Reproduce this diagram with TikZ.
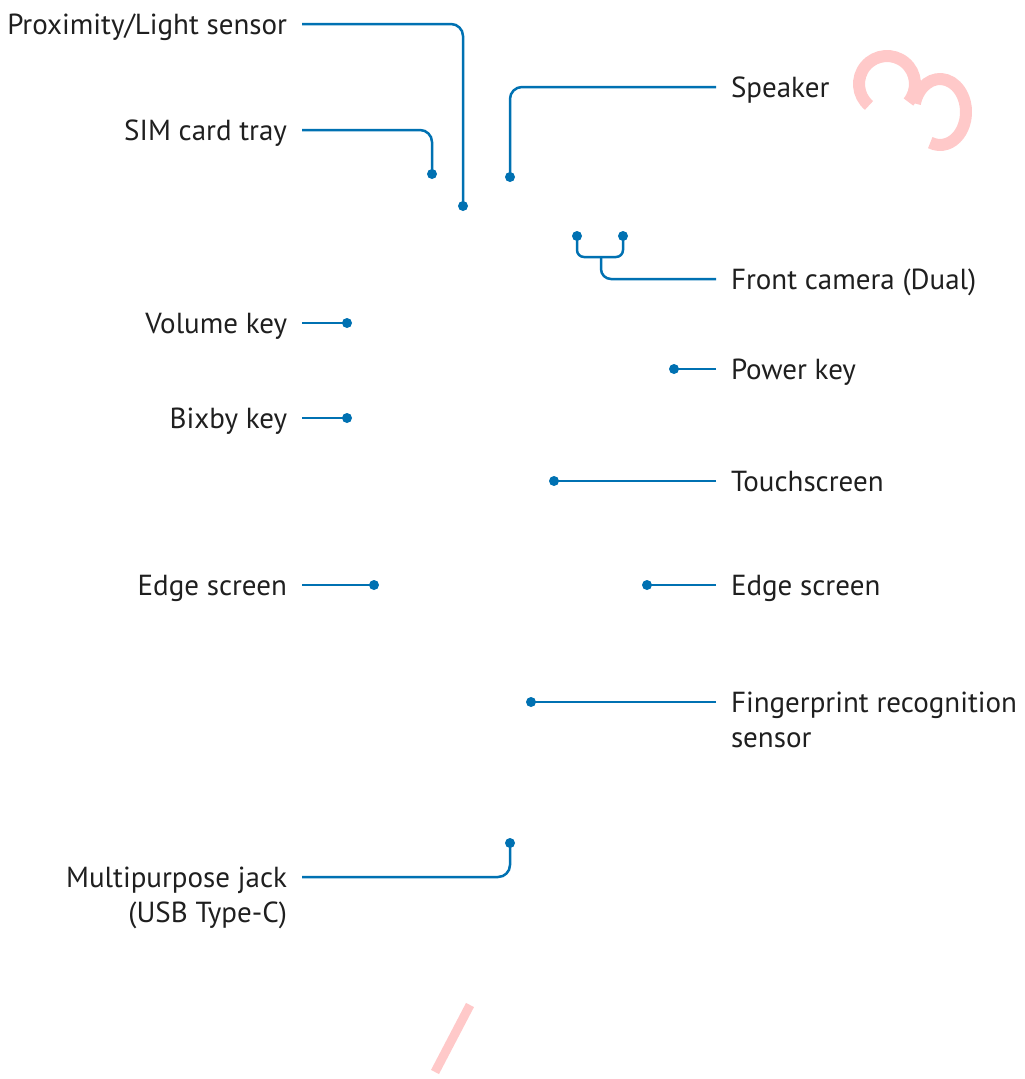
\documentclass[tikz,border=0pt]{standalone}
\usepackage{fontspec}
\setmainfont{PT Sans}
\usetikzlibrary{positioning}
\definecolor{callout}{HTML}{0071B2}
\definecolor{stamp}{HTML}{FFC9C9}
\newcommand{\twoline}[3]{\begin{tabular}[t]{@{}#1@{}}#2\\#3\end{tabular}}

\begin{document}
\begin{tikzpicture}[x=1pt,y=-1pt,
    lbl/.style={inner sep=0pt,outer xsep=15pt,text height=20pt,text depth=0pt,
      text=black!88,font=\fontsize{29}{35}\selectfont},
    lblr/.style={lbl,anchor=east},
    lbll/.style={lbl,anchor=west},
    dot/.style={circle,fill=callout,inner sep=0pt,minimum size=10pt},
    lead/.style={draw=callout,line width=2.5pt,rounded corners=12pt},
    stampline/.style={draw=stamp,line width=12pt}]
  \useasboundingbox (0,0) rectangle (1025,1079);

  % labels, left column
  \node[lblr] (proxt) at (302,24)  {Proximity/Light sensor};
  \node[lblr] (simt)  at (302,130) {SIM card tray};
  \node[lblr] (volt)  at (302,323) {Volume key};
  \node[lblr] (bixt)  at (302,418) {Bixby key};
  \node[lblr] (edglt) at (302,585) {Edge screen};
  \node[lblr] (jackt) at (302,877) {\twoline{r}{Multipurpose jack}{(USB Type-C)}};

  % labels, right column
  \node[lbll] (spkt)  at (716,87)  {Speaker};
  \node[lbll] (camt)  at (716,279) {Front camera (Dual)};
  \node[lbll] (powt)  at (716,369) {Power key};
  \node[lbll] (tsct)  at (716,481) {Touchscreen};
  \node[lbll] (edgrt) at (716,585) {Edge screen};
  \node[lbll] (fpst)  at (716,702) {\twoline{l}{Fingerprint recognition}{sensor}};

  % leader lines
  \coordinate (camj) at (601,257);
  \draw[lead] (proxt.east) -| (463,206) node[dot] (prox) {};
  \draw[lead] (simt.east) -| (432,174) node[dot] (sim) {};
  \draw[lead] (spkt.west) -| (510,177) node[dot] (spk) {};
  \draw[lead,rounded corners=7pt] (577,236) node[dot] (cama) {} |- (camj) -| (623,236) node[dot] (camb) {};
  \draw[lead,rounded corners=10pt] (camj) |- (camt.west);
  \draw[lead] (volt.east) -- (347,323) node[dot] (vol) {};
  \draw[lead] (bixt.east) -- (347,418) node[dot] (bix) {};
  \draw[lead] (edglt.east) -- (374,585) node[dot] (edgl) {};
  \draw[lead] (powt.west) -- (674,369) node[dot] (pow) {};
  \draw[lead] (tsct.west) -- (554,481) node[dot] (tsc) {};
  \draw[lead] (edgrt.west) -- (647,585) node[dot] (edgr) {};
  \draw[lead] (fpst.west) -- (531,702) node[dot] (fps) {};
  \draw[lead] (jackt.east) -| (510,843) node[dot] (jack) {};

  % pink stamp marks
  \draw[stampline] (887,84) ++(-230:28) arc[start angle=-230,end angle=40,radius=28];
  \draw[stampline] (940,112) ++(-165:26 and 33) arc[start angle=-165,end angle=112,x radius=26,y radius=33];
  \draw[stampline,line width=9pt] (435,1072) -- (470,1005);
\end{tikzpicture}
\end{document}
